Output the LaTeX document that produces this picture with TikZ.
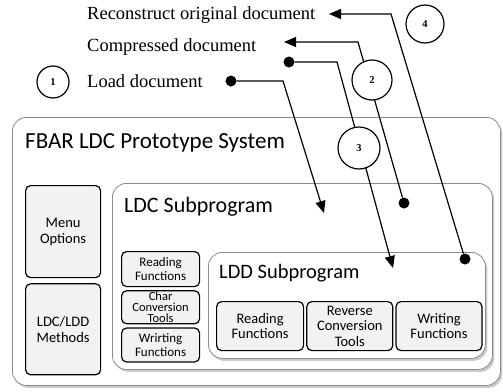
\documentclass[tikz,border=0pt]{standalone}
\usepackage{fontspec}
\setmainfont{Liberation Serif}
\newfontfamily\boxfont{Carlito}
\usetikzlibrary{arrows.meta, positioning, shadows}
\definecolor{panelgray}{HTML}{F2F2F2}
\definecolor{framegray}{HTML}{8C8C8C}

\begin{document}
\begin{tikzpicture}[x=1pt, y=-1pt,
  container/.style={rectangle, draw=framegray, line width=0.8pt, fill=white, rounded corners=14pt, anchor=north west, drop shadow={shadow xshift=2pt, shadow yshift=-2.5pt, fill=black!40, opacity=0.5}},
  module/.style={rectangle, draw=black, line width=1.2pt, fill=panelgray, rounded corners=5pt, anchor=north west, align=center, inner sep=0.5pt},
  heading/.style={anchor=west, inner sep=0pt, font=\boxfont\fontsize{#1}{#1}\selectfont},
  doc/.style={anchor=west, inner sep=0pt, font=\fontsize{18.5}{20}\selectfont},
  stepnum/.style={circle, draw=black, line width=1.2pt, fill=white, inner sep=0pt, minimum size=#1, font=\bfseries\fontsize{10.5}{10.5}\selectfont},
  dot/.style={circle, fill=black, inner sep=0pt, minimum size=11pt},
  flow/.style={-{Triangle[length=12pt, width=10pt]}, line width=1.2pt}
]
  \useasboundingbox (0,0) rectangle (503,391);

  \node[container, minimum width=488pt, minimum height=268pt] (sys) at (12,117) {};
  \node[heading=23] (systitle) at (25,143) {FBAR LDC Prototype System};

  \node[module, minimum width=75pt, minimum height=92pt, font=\boxfont\fontsize{14.5}{16}\selectfont] (menu) at (25,185) {Menu\\Options};
  \node[module, minimum width=75pt, minimum height=91pt, font=\boxfont\fontsize{14.5}{16}\selectfont, below=5pt of menu] (methods) {LDC/LDD\\Methods};

  \node[container, minimum width=380pt, minimum height=186pt] (ldc) at (112,183) {};
  \node[heading=22] (ldctitle) at (124,207) {LDC Subprogram};

  \node[module, minimum width=78pt, minimum height=35pt, font=\boxfont\fontsize{13}{14}\selectfont] (ldcread) at (121,251) {Reading\\Functions};
  \node[module, minimum width=78pt, minimum height=33pt, inner sep=0pt, font=\boxfont\fontsize{12.5}{11}\selectfont, below=3pt of ldcread] (ldcconv) {Char\\Conversion\\Tools};
  \node[module, minimum width=78pt, minimum height=34pt, font=\boxfont\fontsize{13}{14}\selectfont, below=3pt of ldcconv] (ldcwrite) {Wrirting\\Functions};

  \node[container, minimum width=277pt, minimum height=106pt] (ldd) at (208,252) {};
  \node[heading=20.5] (lddtitle) at (219,273) {LDD Subprogram};

  \node[module, minimum width=87pt, minimum height=49pt, font=\boxfont\fontsize{14.5}{15.5}\selectfont] (lddread) at (216,301) {Reading\\Functions};
  \node[module, minimum width=86pt, minimum height=49pt, font=\boxfont\fontsize{14.5}{15.5}\selectfont, right=2pt of lddread] (lddconv) {Reverse\\Conversion\\Tools};
  \node[module, minimum width=86pt, minimum height=49pt, font=\boxfont\fontsize{14.5}{15.5}\selectfont, right=2pt of lddconv] (lddwrite) {Writing\\Functions};

  \node[doc] (reconstruct) at (87,15) {Reconstruct original document};
  \node[doc] (compressed) at (87,47) {Compressed document};
  \node[doc] (load) at (87,81) {Load document};

  \node[dot] (loaddot) at (231,81) {};
  \node[dot] (compdot) at (289,62) {};
  \node[dot] (ldcdot) at (404,203) {};
  \node[dot] (ldddot) at (465,259) {};

  \coordinate (loadbend) at (283,81);
  \coordinate (loadtip) at (324,213);
  \coordinate (compbend) at (358,42);
  \coordinate (comptip) at (284,42);
  \coordinate (storebend) at (337,62);
  \coordinate (storetip) at (393,268);
  \coordinate (rebuildbend) at (391,14);
  \coordinate (rebuildtip) at (329,14);

  \draw[flow] (loaddot) -- (loadbend) -- (loadtip);
  \draw[flow] (ldcdot) -- (compbend) -- (comptip);
  \draw[flow] (compdot) -- (storebend) -- (storetip);
  \draw[flow] (ldddot) -- (rebuildbend) -- (rebuildtip);

  \node[stepnum=32pt] (one) at (53,82) {1};
  \node[stepnum=40pt] (two) at (372,80) {2};
  \node[stepnum=42pt] (three) at (359,148) {3};
  \node[stepnum=38pt] (four) at (425,24) {4};
\end{tikzpicture}
\end{document}
